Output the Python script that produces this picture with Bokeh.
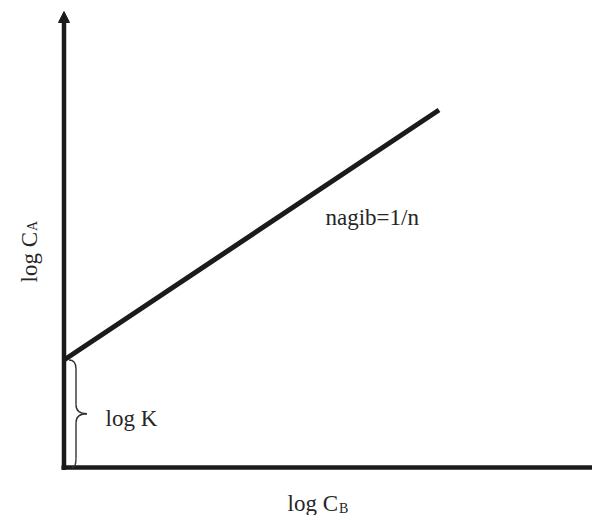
import math
from bokeh.plotting import figure
from bokeh.models import Range1d, Arrow, NormalHead
from bokeh.core.properties import value
from bokeh.embed import file_html
from bokeh.resources import INLINE

# ---- data (schematic Freundlich isotherm: log C_A = log K + (1/n) log C_B) ----
log_CB = [0.0, 7.5]          # x values of the straight line
log_CA = [2.15, 7.15]        # y values of the straight line
log_K = 2.15                 # intercept
y_axis_top = 9.12            # arrow tip of the y axis
x_axis_end = 10.8            # right end of x axis (runs off the page)

slope_text = "nagib=1/n"
k_text = "log K"
x_main, x_sub = "log C", "B"
y_main, y_sub = "log C", "A"

# ---- layout ----
W, H = 592, 515
PAGE_X, PAGE_Y = 0, 0        # where the figure lands in the screenshot
PX = 50.0                     # pixels per data unit
OX, OY = 63.5, 467.0          # page pixel position of the origin
FONT = value("Liberation Serif")
INK = "#1b1b1b"
TXT = "#262626"

def fx(sx):  # page pixel x -> data
    return (sx - OX) / PX

def fy(sy):  # page pixel y -> data
    return (OY - sy) / PX

p = figure(width=W, height=H, output_backend="svg", toolbar_location=None,
           x_axis_location=None, y_axis_location=None, title=None,
           x_range=Range1d(fx(PAGE_X), fx(PAGE_X + W)), y_range=Range1d(fy(PAGE_Y + H), fy(PAGE_Y)),
           min_border=0, outline_line_color=None)
p.grid.visible = False
p.background_fill_color = "white"
p.border_fill_color = "white"

# axes
p.segment(x0=[fx(OX - 2.5)], y0=[0], x1=[x_axis_end], y1=[0], line_width=4.5, line_color=INK)
p.add_layout(Arrow(end=NormalHead(size=11, fill_color=INK, line_color=INK, line_width=1),
                   x_start=0, y_start=fy(OY + 2.5), x_end=0, y_end=y_axis_top,
                   line_width=4.5, line_color=INK))

# the straight line
p.line(log_CB, log_CA, line_width=5, line_color=INK, line_cap="butt")

# brace for log K
xa, xb, xt = fx(OX + 5), fx(OX + 12), fx(OX + 23)
ymid = log_K / 2
r = 9 / PX
p.quadratic(x0=[xa, xb, xt, xb], y0=[log_K, ymid + r, ymid, r],
            x1=[xb, xt, xb, xa + 3 / PX], y1=[log_K - r, ymid, ymid - r, 0],
            cx=[xb, xb, xb, xb], cy=[log_K, ymid, ymid, 0],
            line_color="#333333", line_width=1.4)
p.segment(x0=[xb, xb], y0=[log_K - r, ymid - r], x1=[xb, xb], y1=[ymid + r, r],
          line_color="#333333", line_width=1.4)

# texts
fs_main, fs_sub = 23, 14
w_logC = 2.195 * fs_main

p.text(x=[fx(105)], y=[fy(418)], text=[k_text], text_font=FONT, text_font_size=f"{fs_main}px",
       text_color=TXT, text_align="left", text_baseline="alphabetic")
p.text(x=[fx(325)], y=[fy(217)], text=[slope_text], text_font=FONT, text_font_size=f"{fs_main}px",
       text_color=TXT, text_align="left", text_baseline="alphabetic")

# x label with subscript
xl = 287
p.text(x=[fx(xl)], y=[fy(503)], text=[x_main], text_font=FONT, text_font_size=f"{fs_main}px",
       text_color=TXT, text_align="left", text_baseline="alphabetic")
p.text(x=[fx(xl + w_logC + 1)], y=[fy(508)], text=[x_sub], text_font=FONT, text_font_size=f"{fs_sub}px",
       text_color=TXT, text_align="left", text_baseline="alphabetic")

# y label (rotated) with subscript
yb = 282
p.text(x=[fx(29)], y=[fy(yb)], text=[y_main], text_font=FONT, text_font_size=f"{fs_main}px",
       text_color=TXT, text_align="left", text_baseline="alphabetic", angle=math.pi / 2)
p.text(x=[fx(32)], y=[fy(yb - w_logC - 1)], text=[y_sub], text_font=FONT, text_font_size=f"{fs_sub}px",
       text_color=TXT, text_align="left", text_baseline="alphabetic", angle=math.pi / 2)

open("out.html", "w").write(file_html(p, INLINE))
